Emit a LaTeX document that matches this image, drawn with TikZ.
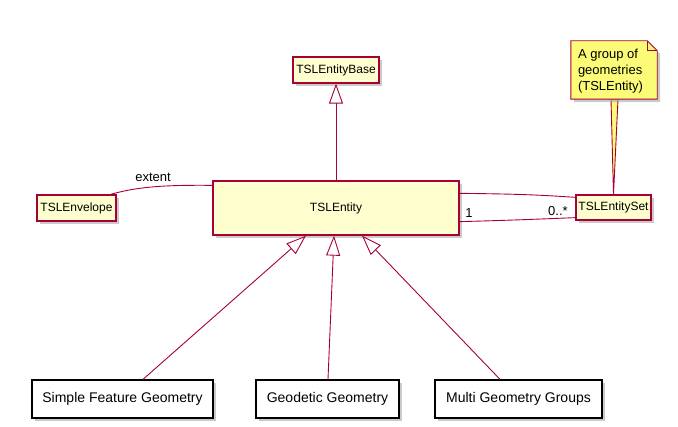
\documentclass[tikz,border=0pt]{standalone}
\usepackage{fontspec}
\setmainfont{Liberation Sans}
\usetikzlibrary{arrows.meta,shadows,calc}
\definecolor{umlfill}{HTML}{FEFECE}
\definecolor{umlborder}{HTML}{A80036}
\definecolor{notefill}{HTML}{FBFB77}
\tikzset{
  shad/.style={drop shadow={shadow xshift=3pt,shadow yshift=-3pt,fill=black!35,opacity=0.6}},
  classbox/.style={draw=umlborder,fill=umlfill,line width=1.3pt,inner sep=0pt,shad,
    font=\fontsize{12}{14}\selectfont},
  plainbox/.style={draw=black,fill=white,line width=1.3pt,inner sep=0pt,shad,
    font=\fontsize{14}{16}\selectfont},
  conn/.style={draw=umlborder,line width=0.9pt},
  inherit/.style={conn,-{Triangle[open,length=20pt,width=14pt,fill=white]}},
  lbl/.style={font=\fontsize{13}{15}\selectfont,inner sep=0pt},
}
\begin{document}
\begin{tikzpicture}[x=1pt,y=-1pt]
\useasboundingbox (0,0) rectangle (678,427);
% class nodes
\node[classbox,minimum width=86pt,minimum height=26pt] (base) at (336,70) {TSLEntityBase};
\node[classbox,minimum width=246pt,minimum height=54pt] (ent) at (336,208) {TSLEntity};
\node[classbox,minimum width=79pt,minimum height=26pt] (env) at (76.5,208) {TSLEnvelope};
\node[classbox,minimum width=75pt,minimum height=25pt] (set) at (613.5,207.5) {TSLEntitySet};
% bottom boxes
\node[plainbox,minimum width=181pt,minimum height=38pt] (sfg) at (122.5,399) {Simple Feature Geometry};
\node[plainbox,minimum width=143pt,minimum height=38pt] (gg) at (327.5,399) {Geodetic Geometry};
\node[plainbox,minimum width=167pt,minimum height=38pt] (mgg) at (518.5,399) {Multi Geometry Groups};
% note
\node[minimum width=86pt,minimum height=58pt,inner sep=0pt] (note) at (614,70) {};
\coordinate (nl) at ([xshift=-3pt]note.south);
\coordinate (nr) at ([xshift=4pt]note.south);
\fill[notefill] (nl) -- (set.north) -- (nr) -- cycle;
\draw[conn] (nl) -- (set.north) -- (nr);
\fill[black!35,opacity=0.6] ([xshift=3pt,yshift=-3pt]note.north west) -- ([xshift=-7pt,yshift=-3pt]note.north east) -- ([xshift=3pt,yshift=-13pt]note.north east) -- ([xshift=3pt,yshift=-3pt]note.south east) -- ([xshift=3pt,yshift=-3pt]note.south west) -- cycle;
\draw[umlborder,fill=notefill,line width=0.9pt] (note.north west) -- ([xshift=-10pt]note.north east) -- ([yshift=-10pt]note.north east) -- (note.south east) -- (note.south west) -- cycle;
\draw[umlborder,line width=0.9pt] ([xshift=-10pt]note.north east) -- ([xshift=-10pt,yshift=-10pt]note.north east) -- ([yshift=-10pt]note.north east);
\node[lbl,anchor=north west,align=left,font=\fontsize{13}{16}\selectfont] (notetext) at ([xshift=7pt,yshift=-8pt]note.north west) {A group of\\geometries\\(TSLEntity)};
% connectors
\draw[inherit] (ent.north) -- (base.south);
\draw[inherit] ([xshift=20.5pt]sfg.north) -- ([xshift=-30pt]ent.south);
\draw[inherit] ([xshift=0.5pt]gg.north) -- ([xshift=-2pt]ent.south);
\draw[inherit] ([xshift=-18.5pt]mgg.north) -- ([xshift=26pt]ent.south);
% extent
\coordinate (envc) at ([xshift=-6pt]env.north east);
\coordinate (entc) at ([yshift=-5pt]ent.north west);
\draw[conn] (envc) .. controls (140,186) and (170,185) .. (entc);
\node[lbl] (extlbl) at (153,177) {extent};
% associations
\coordinate (e1) at ([yshift=-13pt]ent.north east);
\coordinate (s1) at ([yshift=-3pt]set.north west);
\coordinate (e2) at ([yshift=14pt]ent.south east);
\coordinate (s2) at ([yshift=3pt]set.south west);
\draw[conn] (e1) .. controls (520,194) and (540,195) .. (s1);
\draw[conn] (e2) .. controls (520,220) and (540,219) .. (s2);
\node[lbl] (one) at (469,213) {1};
\node[lbl] (many) at (558,211) {0..*};
\end{tikzpicture}
\end{document}
